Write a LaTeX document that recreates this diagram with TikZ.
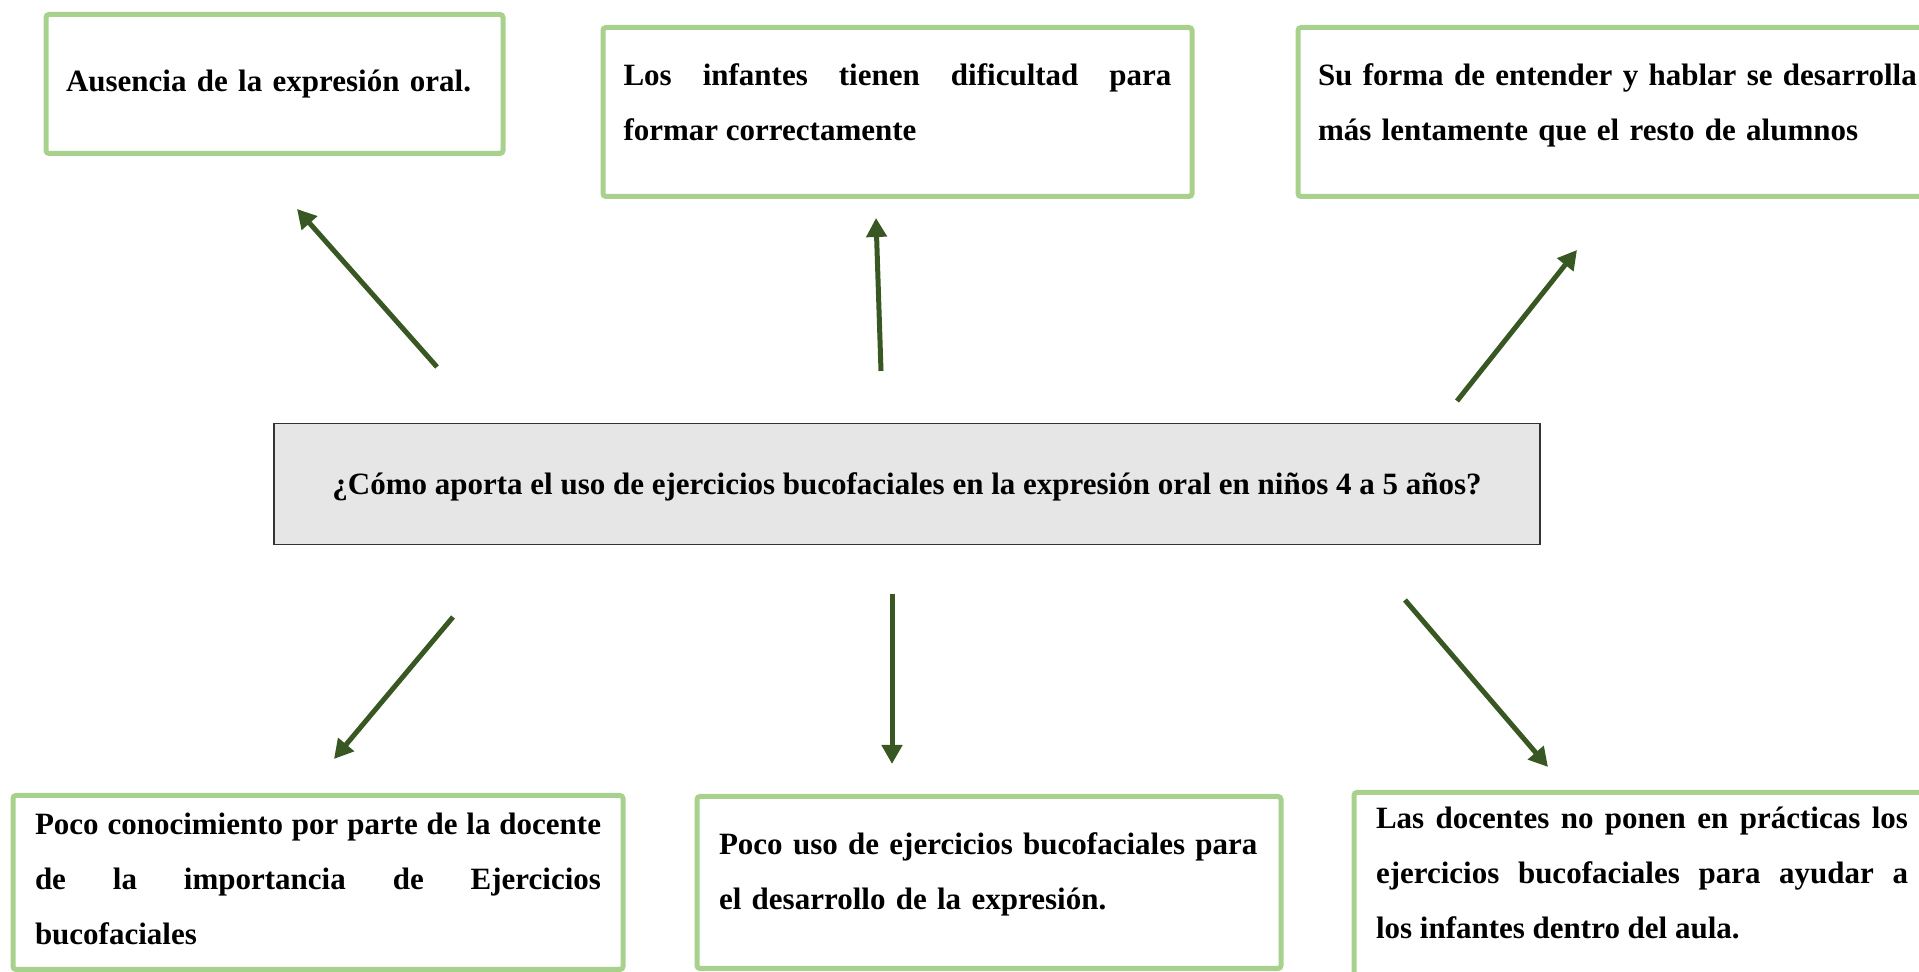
\documentclass[tikz,border=0pt]{standalone}
\usepackage{fontspec}
\setmainfont{Liberation Serif}
\usetikzlibrary{arrows.meta}
\definecolor{cgreen}{HTML}{A9D18E}
\definecolor{cdark}{HTML}{385723}
\definecolor{cgrey}{HTML}{E6E6E6}
\hyphenpenalty=10000
\exhyphenpenalty=10000
\tikzset{
  every picture/.style={x=0.5pt, y=0.5pt},
  txt/.style={font=\bfseries\fontsize{15.5}{27.5}\selectfont, inner sep=0pt, anchor=north},
  box/.style={txt, draw=cgreen, line width=2.5pt, rounded corners=1.5pt, fill=white, align=justify},
  question/.style={txt, draw=black!80, line width=0.6pt, fill=cgrey, align=center},
  arrow/.style={-{Triangle[length=9.5pt, width=10pt]}, draw=cdark, line width=2.5pt},
}

\begin{document}
\begin{tikzpicture}
  \useasboundingbox (0,0) rectangle (1919,972);
  \clip (0,0) rectangle (1919,972);
  \node[box, align=left, minimum width=228.5pt, text width=208.5pt, text height=38.5pt, text depth=31pt] (ausencia) at (274.5,960) {Ausencia de la expresión oral.};
  \node[box, minimum width=294.5pt, text width=274pt, text height=29pt, text depth=55.5pt] (dificultad) at (897.5,947) {Los infantes tienen dificultad para\linebreak formar correctamente};
  \node[box, align=left, minimum width=321pt, text width=301pt, text height=29pt, text depth=55.5pt] (lento) at (1619,947) {Su forma de entender y hablar se desarrolla\\ más lentamente que el resto de alumnos};
  \node[question, minimum width=633pt, text height=35.5pt, text depth=25pt] (pregunta) at (907,549) {¿Cómo aporta el uso de ejercicios bucofaciales en la expresión oral en niños 4 a 5 años?};
  \node[box, minimum width=305pt, text width=283pt, text height=19.5pt, text depth=67.5pt] (conocimiento) at (318,179) {Poco conocimiento por parte de la docente\linebreak de la importancia de Ejercicios\linebreak bucofaciales};
  \node[box, align=left, minimum width=292pt, text width=270pt, text height=29pt, text depth=57pt] (uso) at (989,178) {Poco uso de ejercicios bucofaciales para\\ el desarrollo de la expresión.};
  \node[box, minimum width=288pt, text width=266pt, text height=18pt, text depth=87pt] (practica) at (1642,182) {Las docentes no ponen en prácticas los\linebreak ejercicios bucofaciales para ayudar a\linebreak los infantes dentro del aula.};

  \coordinate (s1) at (437,605);  \coordinate (t1) at (297,763);
  \coordinate (s2) at (881,601);  \coordinate (t2) at (876,754);
  \coordinate (s3) at (1457,571); \coordinate (t3) at (1577,722);
  \coordinate (s4) at (453,355);  \coordinate (t4) at (334,213);
  \coordinate (s5) at (892,378);  \coordinate (t5) at (892,208);
  \coordinate (s6) at (1405,372); \coordinate (t6) at (1548,205);
  \foreach \i in {1,...,6}
    \draw[arrow] (s\i) -- (t\i);
\end{tikzpicture}
\end{document}
